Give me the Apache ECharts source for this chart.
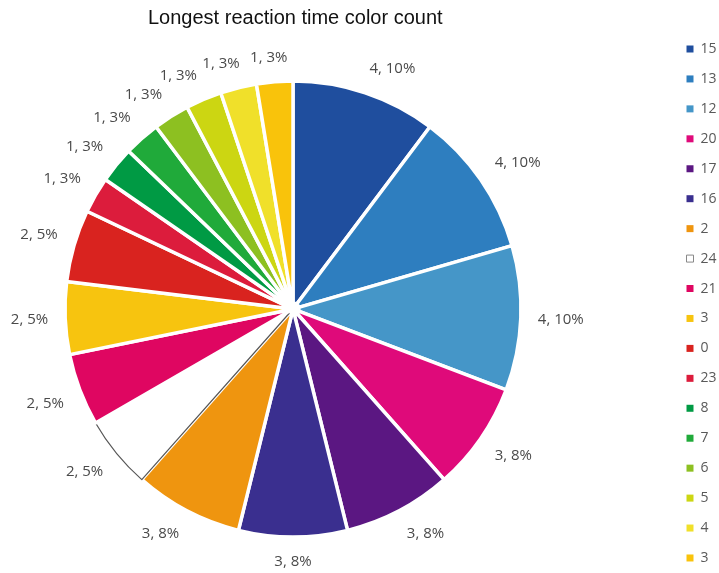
<!DOCTYPE html>
<html>
<head>
<meta charset="utf-8">
<script src="https://cdn.jsdelivr.net/npm/echarts@6/dist/echarts.min.js"></script>
<style>
  html, body { margin: 0; padding: 0; background: #fff; }
  #chart { width: 719px; height: 573px; }
</style>
</head>
<body>
<div id="chart"></div>
<script>
// slice names (clockwise from 12 o'clock), "3" appears twice in the original
const names = ['15', '13', '12', '20', '17', '16', '2', '24', '21', '3', '0', '23', '8', '7', '6', '5', '4', '3 '];
const counts = [4, 4, 4, 3, 3, 3, 3, 2, 2, 2, 2, 1, 1, 1, 1, 1, 1, 1];
const colors = ['#1f4e9e', '#2e7ebf', '#4596c8', '#df0a7a', '#5b1782', '#3a2f8f', '#ef950f', '#ffffff',
  '#df0661', '#f7c40f', '#d9231f', '#dc1c3c', '#009a44', '#20aa3a', '#8dc021', '#ccd612', '#f0e02a', '#f9c30b'];

const total = counts.reduce((a, b) => a + b, 0)

const CX = 293, CY = 309, R = 228
const LABEL_R = R + 17

// middle of each slice as a fraction of the full turn
let acc = 0
const midFrac = counts.map(c => {
  const m = (acc + c / 2) / total
  acc += c
  return m
})

const clamp = t => Math.max(-1, Math.min(1, t))

const chart = echarts.init(document.getElementById('chart'))

const pieData = names.map((n, i) => {
  const item = { name: n, value: counts[i], itemStyle: { color: colors[i] } }
  if (n === '24') {
    item.itemStyle.borderColor = '#555'
    item.itemStyle.borderWidth = 1.2
  }
  return item
})

const legendData = names.map(n => {
  if (n === '24') {
    return { name: n, itemStyle: { borderColor: '#888', borderWidth: 1 } }
  }
  return { name: n, itemStyle: { borderWidth: 0 } }
})

chart.setOption({
  animation: false,
  title: {
    text: 'Longest reaction time color count',
    left: 143,
    top: 3,
    textStyle: {
      fontFamily: 'Liberation Sans',
      fontSize: 20,
      fontWeight: 'normal',
      color: '#111'
    }
  },
  legend: {
    orient: 'vertical',
    left: 681,
    top: 37,
    itemWidth: 7,
    itemHeight: 7,
    itemGap: 15.94,
    icon: 'rect',
    data: legendData,
    formatter: n => n.trim(),
    textStyle: {
      fontFamily: 'Open Sans',
      fontSize: 14,
      lineHeight: 14,
      color: '#595959',
      padding: [0, 0, 0, 2]
    }
  },
  series: [
    {
      name: 'count',
      type: 'pie',
      center: [CX, CY],
      radius: [6, R],
      startAngle: 90,
      clockwise: true,
      avoidLabelOverlap: false,
      itemStyle: {
        borderColor: '#fff',
        borderWidth: 3.5
      },
      label: {
        show: true,
        position: 'outside',
        fontFamily: 'Open Sans',
        fontSize: 15,
        color: '#4a4a4a',
        formatter: p => p.value + ', ' + Math.round(p.value / total * 100) + '%'
      },
      labelLine: {
        show: false,
        length: 17,
        length2: 0
      },
      // place each label box just outside the rim, like the spreadsheet does
      labelLayout: p => {
        const a = midFrac[p.dataIndex] * Math.PI * 2
        const dx = Math.sin(a), dy = -Math.cos(a)
        const w = p.labelRect.width, h = p.labelRect.height
        const ax = CX + LABEL_R * dx, ay = CY + LABEL_R * dy
        return {
          x: ax + w / 2 * clamp(dx * 3),
          y: ay + h / 2 * clamp(dy * 3),
          align: 'center',
          verticalAlign: 'middle'
        }
      },
      emphasis: { disabled: true },
      data: pieData
    }
  ]
})
</script>
</body>
</html>
